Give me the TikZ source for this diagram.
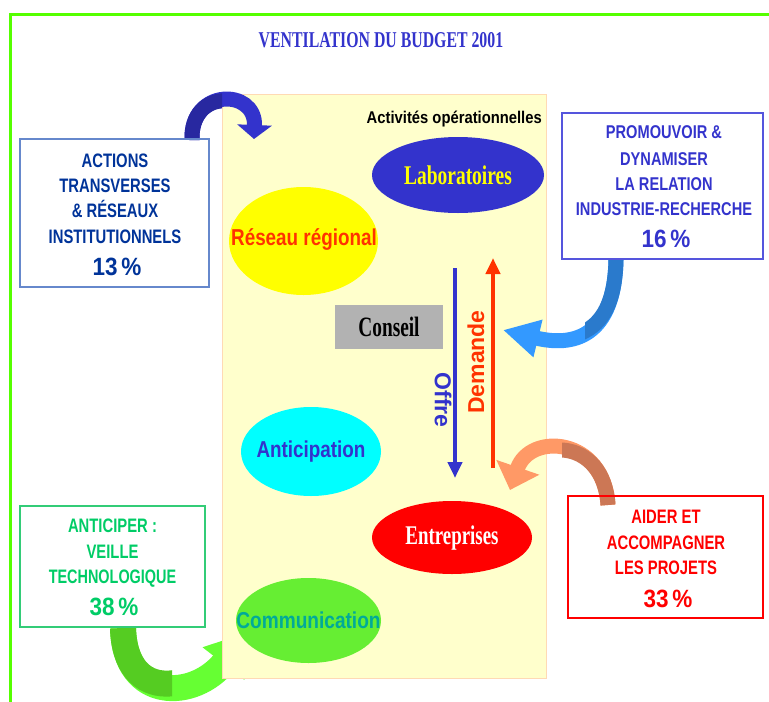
\documentclass[tikz,border=0pt]{standalone}
\usepackage{fontspec}
\usepackage{graphicx}
\setmainfont{Liberation Serif}
\setsansfont{Liberation Sans}
\usetikzlibrary{shapes.geometric,arrows.meta}
\definecolor{framegreen}{RGB}{85,255,0}
\definecolor{panelfill}{RGB}{255,255,204}
\definecolor{panelborder}{RGB}{255,218,180}
\definecolor{titleblue}{RGB}{51,51,204}
\definecolor{labblue}{RGB}{51,51,204}
\definecolor{labtext}{RGB}{255,255,0}
\definecolor{resfill}{RGB}{255,255,0}
\definecolor{resred}{RGB}{255,51,0}
\definecolor{antfill}{RGB}{0,255,255}
\definecolor{entfill}{RGB}{255,0,0}
\definecolor{commfill}{RGB}{102,238,51}
\definecolor{commtext}{RGB}{0,170,153}
\definecolor{conseilgray}{RGB}{178,178,178}
\definecolor{demred}{RGB}{255,51,0}
\definecolor{bAborder}{RGB}{102,136,204}
\definecolor{bAtext}{RGB}{0,51,153}
\definecolor{bBborder}{RGB}{85,85,221}
\definecolor{bBtext}{RGB}{51,51,204}
\definecolor{bCborder}{RGB}{51,204,119}
\definecolor{bCtext}{RGB}{0,204,102}
\definecolor{bDborder}{RGB}{255,0,0}
\definecolor{bDtext}{RGB}{255,0,0}
\definecolor{arrA}{RGB}{51,51,204}
\definecolor{arrAd}{RGB}{40,40,160}
\definecolor{arrB}{RGB}{51,153,255}
\definecolor{arrBd}{RGB}{42,122,204}
\definecolor{arrC}{RGB}{255,153,102}
\definecolor{arrCd}{RGB}{204,119,85}
\definecolor{arrD}{RGB}{102,255,51}
\definecolor{arrDd}{RGB}{85,204,34}
\newcommand\hs[2]{\scalebox{#1}[1]{#2}}
\tikzset{
  boxframe/.style={draw=#1, line width=1.2pt, inner sep=0pt},
  boxline/.style={font=\fontsize{19.5}{20}\selectfont\sffamily\bfseries, text=#1, anchor=base, inner sep=0pt},
  boxpct/.style={font=\fontsize{25}{26}\selectfont\sffamily\bfseries, text=#1, anchor=base, inner sep=0pt},
  oval/.style={ellipse, inner sep=0pt},
  serifbig/.style={font=\fontsize{27}{28}\selectfont\bfseries, inner sep=0pt},
  sansmid/.style={font=\fontsize{23}{24}\selectfont\sffamily\bfseries, inner sep=0pt},
  ribbon/.style={line width=#1},
}
\begin{document}
\begin{tikzpicture}[x=1pt,y=-1pt]
\useasboundingbox (0,0) rectangle (769,702);
% green frame
\coordinate (fb) at (10,702);
\coordinate (fc) at (10,14);
\coordinate (fr) at (769,14);
\draw[line width=3pt, framegreen] (fb) -- (fc) -- (fr);

% green curved arrow (below panel)
\coordinate (gs) at (123,628);
\coordinate (ge) at (248,632);
\draw[ribbon=26pt, arrD, -{Triangle[width=50pt,length=40pt]}] (gs) .. controls (125,703) and (195,700) .. (ge);
\begin{scope}
  \clip (0,600) rectangle (172,702);
  \draw[ribbon=26pt, arrDd] (gs) .. controls (125,703) and (195,700) .. (ge);
\end{scope}

% panel
\node[draw=panelborder, fill=panelfill, line width=1.2pt, minimum width=324pt, minimum height=584pt, inner sep=0pt, anchor=north west] (panel) at (222,94) {};

% title
\node[anchor=base, inner sep=0pt, font=\fontsize{22.6}{24}\selectfont\bfseries, text=titleblue] (title) at (381,47) {\hs{0.70}{VENTILATION DU BUDGET 2001}};

\node[anchor=base east, inner sep=0pt, font=\fontsize{17}{18}\selectfont\sffamily\bfseries] (act) at (542,123) {\hs{0.87}{Activités opérationnelles}};

% ellipses
\node[oval, fill=labblue, minimum width=172pt, minimum height=76pt] (labo) at (458,175) {};
\node[serifbig, text=labtext] (labot) at (labo.center) {\hs{0.72}{Laboratoires}};
\node[oval, fill=resfill, minimum width=149pt, minimum height=108pt] (reseau) at (303.5,241) {};
\node[sansmid, text=resred] (reseaut) at (304,239) {\hs{0.82}{Réseau régional}};
\node[oval, fill=antfill, minimum width=140pt, minimum height=89pt] (antic) at (311,451.5) {};
\node[sansmid, text=labblue] (antict) at (antic.center) {\hs{0.82}{Anticipation}};
\node[oval, fill=entfill, minimum width=160pt, minimum height=73pt] (entre) at (452,537.5) {};
\node[serifbig, text=white] (entret) at (entre.center) {\hs{0.70}{Entreprises}};
\node[oval, fill=commfill, minimum width=145pt, minimum height=85pt] (comm) at (308.5,620.5) {};
\node[sansmid, text=commtext] (commt) at (comm.center) {\hs{0.83}{Communication}};

% conseil
\node[fill=conseilgray, minimum width=108pt, minimum height=44pt, inner sep=0pt, font=\fontsize{28}{29}\selectfont\bfseries] (conseil) at (389,327) {\hs{0.69}{Conseil}};

% offre / demande
\coordinate (o1) at (455,268);
\coordinate (o2) at (455,478);
\draw[line width=4pt, labblue, -{Triangle[width=14pt,length=16pt]}] (o1) -- (o2);
\coordinate (d1) at (493,468);
\coordinate (d2) at (493,258);
\draw[line width=4pt, demred, -{Triangle[width=14pt,length=16pt]}] (d1) -- (d2);
\node[rotate=-90, inner sep=0pt, font=\fontsize{23}{24}\selectfont\sffamily\bfseries, text=labblue] (offre) at (443,400) {Offre};
\node[rotate=90, inner sep=0pt, font=\fontsize{23}{24}\selectfont\sffamily\bfseries, text=demred] (demande) at (476,362) {Demande};

% dark blue curved arrow
\coordinate (as) at (192,140);
\coordinate (ae) at (254,139);
\draw[ribbon=15pt, arrA, -{Triangle[width=34pt,length=14pt]}] (as) .. controls (190,88) and (256,88) .. (ae);
\begin{scope}
  \clip (150,80) rectangle (222,145);
  \draw[ribbon=15pt, arrAd] (as) .. controls (190,88) and (256,88) .. (ae);
\end{scope}

% light blue curved arrow
\coordinate (bs) at (616,260);
\coordinate (be) at (503,330);
\draw[ribbon=15pt, arrB, -{Triangle[width=36pt,length=36pt]}] (bs) .. controls (614,345) and (565,345) .. (be);
\begin{scope}
  \clip (585,255) rectangle (640,360);
  \draw[ribbon=15pt, arrBd] (bs) .. controls (614,345) and (565,345) .. (be);
\end{scope}

% orange curved arrow
\coordinate (cs) at (608,505);
\coordinate (ce) at (510,490);
\draw[ribbon=15pt, arrC, -{Triangle[width=44pt,length=24pt]}] (cs) .. controls (604,437) and (530,432) .. (ce);
\begin{scope}
  \clip (562,430) rectangle (630,510);
  \draw[ribbon=15pt, arrCd] (cs) .. controls (604,437) and (530,432) .. (ce);
\end{scope}

% boxes
\node[boxframe=bAborder, minimum width=189pt, minimum height=148pt] (bA) at (114.5,213) {};
\node[boxframe=bBborder, minimum width=201pt, minimum height=146pt] (bB) at (662.5,186) {};
\node[boxframe=bCborder, minimum width=185pt, minimum height=121pt] (bC) at (112.5,566.5) {};
\node[boxframe=bDborder, minimum width=195pt, minimum height=122pt] (bD) at (665.5,557) {};

% box A text
\node[boxline=bAtext] (bA1) at (115,167) {\hs{0.76}{ACTIONS}};
\node[boxline=bAtext] (bA2) at (115,192) {\hs{0.76}{TRANSVERSES}};
\node[boxline=bAtext] (bA3) at (115,217) {\hs{0.76}{\& RÉSEAUX}};
\node[boxline=bAtext] (bA4) at (115,243) {\hs{0.76}{INSTITUTIONNELS}};
\node[boxpct=bAtext] (bA5) at (117,275) {\hs{0.9}{13\,\%}};

% box B text
\node[boxline=bBtext, font=\fontsize{18.5}{19}\selectfont\sffamily\bfseries] (bB1) at (664,138) {\hs{0.79}{PROMOUVOIR \&}};
\node[boxline=bBtext, font=\fontsize{18.5}{19}\selectfont\sffamily\bfseries] (bB2) at (664,165) {\hs{0.79}{DYNAMISER}};
\node[boxline=bBtext, font=\fontsize{18.5}{19}\selectfont\sffamily\bfseries] (bB3) at (664,190) {\hs{0.79}{LA RELATION}};
\node[boxline=bBtext, font=\fontsize{18.5}{19}\selectfont\sffamily\bfseries] (bB4) at (664,215) {\hs{0.79}{INDUSTRIE-RECHERCHE}};
\node[boxpct=bBtext] (bB5) at (666,247) {\hs{0.9}{16\,\%}};

% box C text
\node[boxline=bCtext] (bC1) at (112.5,532) {\hs{0.76}{ANTICIPER :}};
\node[boxline=bCtext] (bC2) at (112.5,558) {\hs{0.76}{VEILLE}};
\node[boxline=bCtext] (bC3) at (112.5,583) {\hs{0.74}{TECHNOLOGIQUE}};
\node[boxpct=bCtext] (bC4) at (114,615) {\hs{0.9}{38\,\%}};

% box D text
\node[boxline=bDtext] (bD1) at (666,523) {\hs{0.76}{AIDER ET}};
\node[boxline=bDtext] (bD2) at (666,549) {\hs{0.76}{ACCOMPAGNER}};
\node[boxline=bDtext] (bD3) at (666,574) {\hs{0.76}{LES PROJETS}};
\node[boxpct=bDtext] (bD4) at (668,607) {\hs{0.9}{33\,\%}};
\end{tikzpicture}
\end{document}
